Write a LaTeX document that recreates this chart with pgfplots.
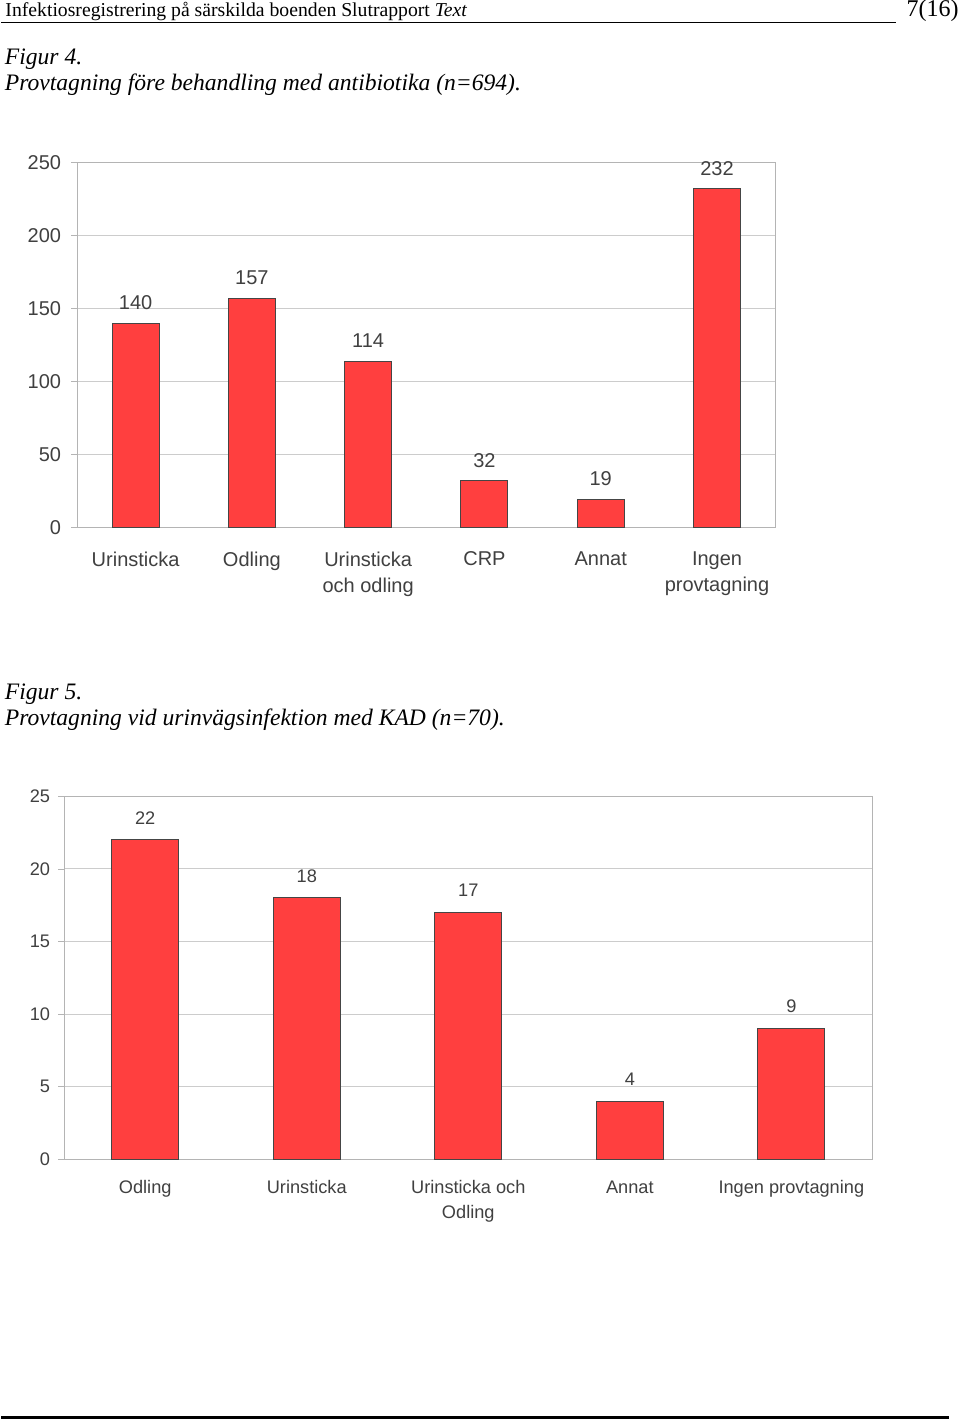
\documentclass[border=0pt]{standalone}
\usepackage{fontspec}
\setmainfont{Liberation Serif}
\newfontfamily\chartfont{Liberation Sans}
\usepackage{pgfplots}
\pgfplotsset{compat=1.18}
\definecolor{barred}{HTML}{FF3F3F}
\definecolor{baredge}{HTML}{454545}
\definecolor{txtgray}{HTML}{404040}
\definecolor{gridgray}{HTML}{CCCCCC}
\definecolor{axgray}{HTML}{B4B4B4}
\pgfplotsset{
  refbars/.style={
    scale only axis,
    ybar, bar shift=0pt,
    axis line style={axgray},
    ymajorgrids, grid style={gridgray},
    ymin=0,
    xtick=data,
    ytick pos=left, xtick pos=bottom,
    major tick length=3pt,
    tick align=outside,
    tick style={axgray},
    x tick style={draw=none},
    tick label style={txtgray},
    xticklabel style={anchor=north, inner sep=0pt, align=center},
    yticklabel style={anchor=east, inner sep=0pt},
    extra x tick style={grid=none, major tick length=3pt, tick style={draw=axgray}, xticklabel=\empty},
    nodes near coords,
    every node near coord/.append style={txtgray, anchor=south, inner sep=0pt},
    /pgf/number format/assume math mode=true,
  }
}
\begin{document}
\begin{tikzpicture}
\path[fill=white] (0,0) rectangle (480pt,-709.5pt);
% header
\node[anchor=base west, inner sep=0pt, font=\fontsize{9.85}{11}\selectfont] at (1.8pt,-8pt) {Infektiosregistrering på särskilda boenden Slutrapport \textit{Text}};
\draw[line width=0.75pt] (0,-11pt) -- (447.5pt,-11pt);
\node[anchor=base east, inner sep=0pt, font=\fontsize{12}{14}\selectfont] at (479pt,-8pt) {7(16)};
% figure 4 title
\node[anchor=base west, inner sep=0pt, font=\fontsize{11.8}{13}\selectfont\itshape] at (1.5pt,-32pt) {Figur 4.};
\node[anchor=base west, inner sep=0pt, font=\fontsize{11.8}{13}\selectfont\itshape] at (1.5pt,-45pt) {Provtagning före behandling med antibiotika (n=694).};
% figure 5 title
\node[anchor=base west, inner sep=0pt, font=\fontsize{11.8}{13}\selectfont\itshape] at (1.5pt,-349.5pt) {Figur 5.};
\node[anchor=base west, inner sep=0pt, font=\fontsize{11.8}{13}\selectfont\itshape] at (1.5pt,-362.5pt) {Provtagning vid urinvägsinfektion med KAD (n=70).};
% chart 1
\begin{axis}[refbars,
  at={(38pt,-263.5pt)}, anchor=south west,
  width=349pt, height=182.5pt,
  xmin=-0.5, xmax=5.5, ymax=250,
  ytick={0,50,100,150,200,250},
  bar width=23.5pt,
  font=\chartfont\fontsize{10}{13}\selectfont,
  xticklabels={Urinsticka, Odling, Urinsticka\\och odling, CRP, Annat, Ingen\\provtagning},
  xticklabel style={yshift=-9pt},
  yticklabel style={xshift=-5pt},
  extra x ticks={-0.5,0.5,1.5,2.5,3.5,4.5,5.5},
  every node near coord/.append style={yshift=6.5pt},
]
\addplot[fill=barred, draw=baredge, line width=0.5pt] coordinates {(0,140) (1,157) (2,114) (3,32) (4,19) (5,232)};
\end{axis}
% chart 2
\begin{axis}[refbars,
  at={(31.5pt,-579.5pt)}, anchor=south west,
  width=404pt, height=181.5pt,
  xmin=-0.5, xmax=4.5, ymax=25,
  ytick={0,5,10,15,20,25},
  bar width=33.5pt,
  font=\chartfont\fontsize{9.1}{12.5}\selectfont,
  xticklabels={Odling, Urinsticka, Urinsticka och\\Odling, Annat, Ingen provtagning},
  xticklabel style={yshift=-7.5pt},
  yticklabel style={xshift=-4pt},
  extra x ticks={-0.5,0.5,1.5,2.5,3.5,4.5},
  every node near coord/.append style={yshift=7.5pt},
]
\addplot[fill=barred, draw=baredge, line width=0.5pt] coordinates {(0,22) (1,18) (2,17) (3,4) (4,9)};
\end{axis}
\draw[line width=1.5pt] (0,-708.5pt) -- (474pt,-708.5pt);
\end{tikzpicture}
\end{document}
